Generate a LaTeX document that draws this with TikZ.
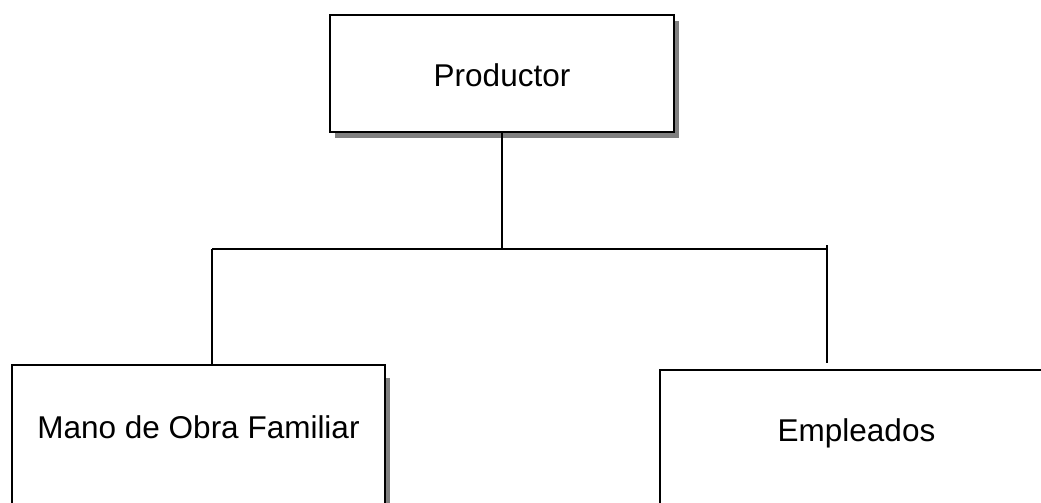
\documentclass[tikz,border=0pt]{standalone}
\usepackage{fontspec}
\setmainfont{Liberation Sans}
\usetikzlibrary{shadows}
\definecolor{shade}{RGB}{128,128,128}
\begin{document}
\begin{tikzpicture}[x=1pt,y=-1pt,
  box/.style={draw=black, line width=2pt, fill=white, inner xsep=0pt, inner ysep=0pt,
    anchor=north west, font=\fontsize{31.5}{36}\selectfont},
  shad/.style={drop shadow={shadow xshift=5pt, shadow yshift=-6pt, fill=shade, opacity=1}},
  conn/.style={draw=black, line width=1.8pt}]
\useasboundingbox (0,0) rectangle (1041,503);
\node[box, shad, minimum width=344pt, text height=71pt, text depth=46pt] (prod) at (329,14) {Productor};
\node[box, drop shadow={shadow xshift=4.5pt, shadow yshift=-13pt, fill=shade, opacity=1},
  minimum width=373pt, text height=73pt, text depth=200pt] (fam) at (11,364) {Mano de Obra Familiar};
\node[box, shad, minimum width=393pt, text height=71pt, text depth=200pt] (emp) at (659,369) {Empleados};
\coordinate (j) at (502,249);
\coordinate (jl) at (212,249);
\coordinate (jr) at (827,249);
\draw[conn] (prod.south) -- (prod.south |- j);
\draw[conn] (jl) -- (jr);
\draw[conn] (jl) -- (jl |- fam.north);
\draw[conn, shorten >=6pt] (827,245) -- (jr |- emp.north);
\end{tikzpicture}
\end{document}
